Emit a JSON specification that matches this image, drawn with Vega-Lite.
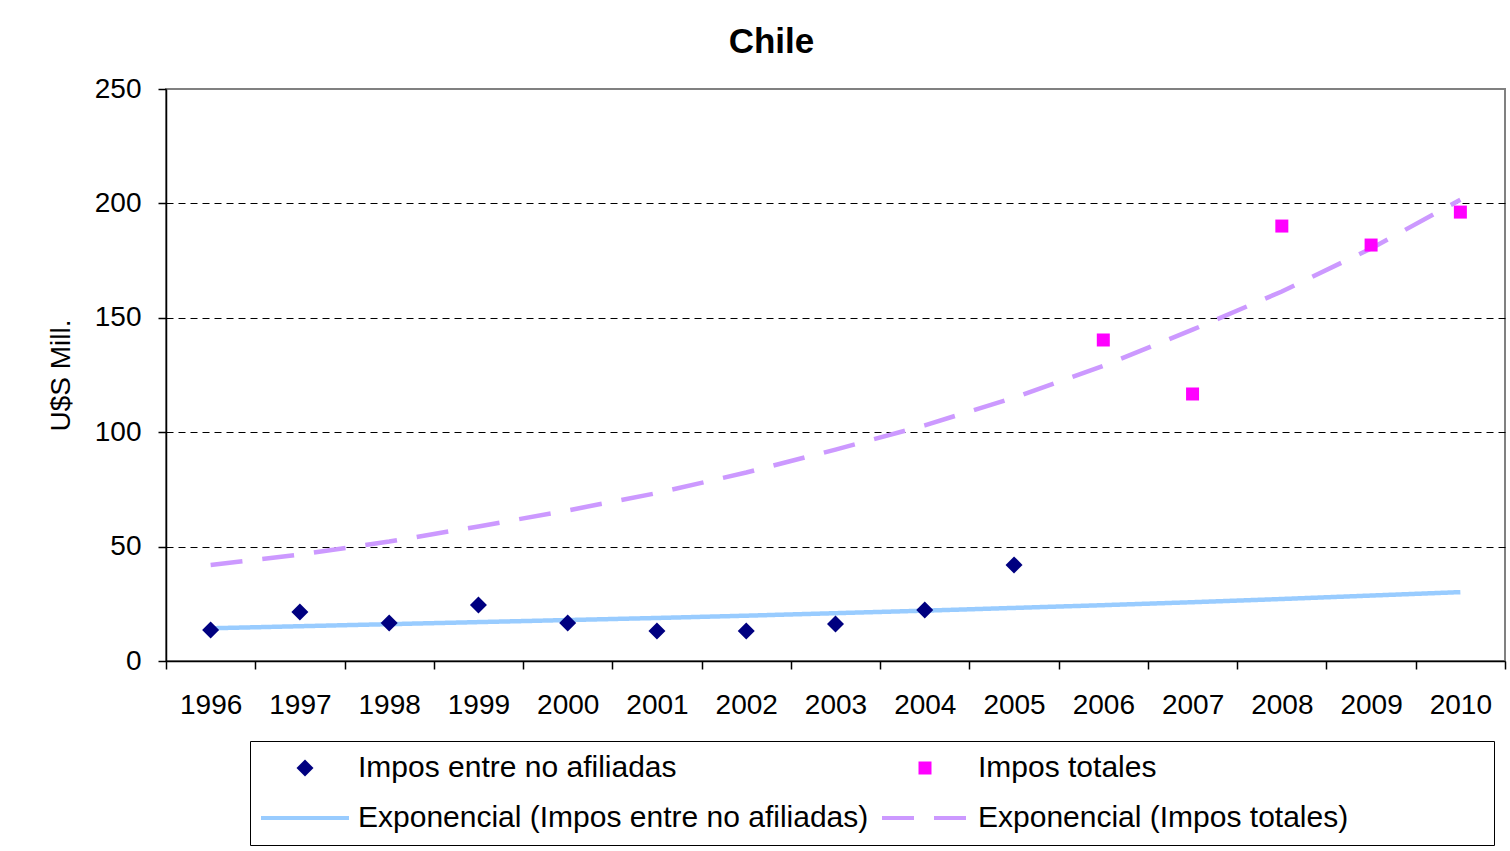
{
  "$schema": "https://vega.github.io/schema/vega-lite/v6.json",
  "width": 1339,
  "height": 572,
  "autosize": {"type": "none"},
  "padding": {"left": 166, "top": 89, "right": 5, "bottom": 190},
  "background": "white",
  "config": {
    "font": "Liberation Sans",
    "view": {"stroke": "#808080", "strokeWidth": 2},
    "axis": {"labelColor": "black", "titleColor": "black", "domainColor": "black", "tickColor": "black", "labelFont": "Liberation Sans", "titleFont": "Liberation Sans"}
  },
  "title": {"text": "Chile", "fontSize": 35, "fontWeight": "bold", "font": "Liberation Sans", "color": "black", "anchor": "middle", "dx": -64, "offset": 37, "dy": 50, "baseline": "alphabetic"},
  "datasets": {
    "obs": [
      {"year": "1996", "value": 13.5, "series": "Impos entre no afiliadas"},
      {"year": "1997", "value": 21.4, "series": "Impos entre no afiliadas"},
      {"year": "1998", "value": 16.6, "series": "Impos entre no afiliadas"},
      {"year": "1999", "value": 24.5, "series": "Impos entre no afiliadas"},
      {"year": "2000", "value": 16.6, "series": "Impos entre no afiliadas"},
      {"year": "2001", "value": 13.1, "series": "Impos entre no afiliadas"},
      {"year": "2002", "value": 13.1, "series": "Impos entre no afiliadas"},
      {"year": "2003", "value": 16.2, "series": "Impos entre no afiliadas"},
      {"year": "2004", "value": 22.3, "series": "Impos entre no afiliadas"},
      {"year": "2005", "value": 42.0, "series": "Impos entre no afiliadas"},
      {"year": "2006", "value": 140.3, "series": "Impos totales"},
      {"year": "2007", "value": 116.7, "series": "Impos totales"},
      {"year": "2008", "value": 190.1, "series": "Impos totales"},
      {"year": "2009", "value": 181.8, "series": "Impos totales"},
      {"year": "2010", "value": 196.2, "series": "Impos totales"}
    ],
    "trend": [
      {"year": "1996", "value": 14.3, "series": "Exponencial (Impos entre no afiliadas)"},
      {"year": "1997", "value": 15.2, "series": "Exponencial (Impos entre no afiliadas)"},
      {"year": "1998", "value": 16.1, "series": "Exponencial (Impos entre no afiliadas)"},
      {"year": "1999", "value": 17.0, "series": "Exponencial (Impos entre no afiliadas)"},
      {"year": "2000", "value": 17.9, "series": "Exponencial (Impos entre no afiliadas)"},
      {"year": "2001", "value": 18.8, "series": "Exponencial (Impos entre no afiliadas)"},
      {"year": "2002", "value": 19.8, "series": "Exponencial (Impos entre no afiliadas)"},
      {"year": "2003", "value": 20.9, "series": "Exponencial (Impos entre no afiliadas)"},
      {"year": "2004", "value": 22.0, "series": "Exponencial (Impos entre no afiliadas)"},
      {"year": "2005", "value": 23.2, "series": "Exponencial (Impos entre no afiliadas)"},
      {"year": "2006", "value": 24.4, "series": "Exponencial (Impos entre no afiliadas)"},
      {"year": "2007", "value": 25.7, "series": "Exponencial (Impos entre no afiliadas)"},
      {"year": "2008", "value": 27.1, "series": "Exponencial (Impos entre no afiliadas)"},
      {"year": "2009", "value": 28.6, "series": "Exponencial (Impos entre no afiliadas)"},
      {"year": "2010", "value": 30.1, "series": "Exponencial (Impos entre no afiliadas)"},
      {"year": "1996", "value": 42.0, "series": "Exponencial (Impos totales)"},
      {"year": "1997", "value": 46.5, "series": "Exponencial (Impos totales)"},
      {"year": "1998", "value": 52.2, "series": "Exponencial (Impos totales)"},
      {"year": "1999", "value": 58.8, "series": "Exponencial (Impos totales)"},
      {"year": "2000", "value": 65.8, "series": "Exponencial (Impos totales)"},
      {"year": "2001", "value": 73.4, "series": "Exponencial (Impos totales)"},
      {"year": "2002", "value": 82.4, "series": "Exponencial (Impos totales)"},
      {"year": "2003", "value": 92.4, "series": "Exponencial (Impos totales)"},
      {"year": "2004", "value": 103.0, "series": "Exponencial (Impos totales)"},
      {"year": "2005", "value": 115.1, "series": "Exponencial (Impos totales)"},
      {"year": "2006", "value": 129.0, "series": "Exponencial (Impos totales)"},
      {"year": "2007", "value": 144.8, "series": "Exponencial (Impos totales)"},
      {"year": "2008", "value": 161.5, "series": "Exponencial (Impos totales)"},
      {"year": "2009", "value": 180.3, "series": "Exponencial (Impos totales)"},
      {"year": "2010", "value": 201.6, "series": "Exponencial (Impos totales)"}
    ]
  },
  "encoding": {
    "x": {
      "field": "year", "type": "ordinal",
      "scale": {"type": "band", "paddingInner": 0, "paddingOuter": 0},
      "axis": {"title": null, "labelAngle": 0, "labelFontSize": 28, "tickSize": 8, "labelPadding": 22, "tickBand": "extent", "domainWidth": 1.5, "tickWidth": 1.5, "grid": false}
    },
    "y": {
      "field": "value", "type": "quantitative",
      "scale": {"domain": [0, 250], "nice": false},
      "axis": {
        "title": "U$S Mill.", "titleFontSize": 28, "titleFontWeight": "normal", "titlePadding": 19,
        "values": [0, 50, 100, 150, 200, 250],
        "labelFontSize": 28, "tickSize": 8, "labelPadding": 17, "domainWidth": 1.5, "tickWidth": 1.5,
        "grid": true, "gridColor": "black", "gridDash": [7, 5], "gridWidth": 1,
        "gridOpacity": {"condition": {"test": "datum.value == 0 || datum.value == 250", "value": 0}, "value": 1}
      }
    }
  },
  "layer": [
    {
      "data": {"name": "trend"},
      "mark": {"type": "line", "strokeWidth": 4.5},
      "encoding": {
        "stroke": {"field": "series", "type": "nominal", "legend": null,
          "scale": {"domain": ["Exponencial (Impos entre no afiliadas)", "Exponencial (Impos totales)"], "range": ["#99ccff", "#cc99ff"]}},
        "strokeDash": {"field": "series", "type": "nominal", "legend": null,
          "scale": {"domain": ["Exponencial (Impos entre no afiliadas)", "Exponencial (Impos totales)"], "range": [[1, 0], [32, 20]]}}
      }
    },
    {
      "data": {"name": "obs"},
      "mark": {"type": "point", "filled": true, "opacity": 1, "size": 400},
      "encoding": {
        "color": {
          "field": "series", "type": "nominal",
          "scale": {"domain": ["Impos entre no afiliadas", "Impos totales", "Exponencial (Impos entre no afiliadas)", "Exponencial (Impos totales)"], "range": ["#000080", "#ff00ff", "#99ccff", "#cc99ff"]},
          "legend": {
            "title": null, "orient": "none", "legendX": 84, "legendY": 652,
            "direction": "horizontal",
            "columns": 2, "gridAlign": "all", "columnPadding": 13, "rowPadding": 20,
            "padding": 12, "strokeColor": "black", "fillColor": "white",
            "labelFontSize": 30, "labelFont": "Liberation Sans", "labelColor": "black", "labelLimit": 0,
            "labelExpr": "indexof(datum.label, 'totales)') > 0 ? datum.label + '\u00a0\u00a0\u00a0\u00a0\u00a0\u00a0\u00a0\u00a0\u00a0\u00a0\u00a0\u00a0\u00a0\u00a0\u00a0\u00a0\u200b' : datum.label",
            "symbolSize": 400, "symbolStrokeWidth": 0, "symbolOffset": 28, "labelOffset": 38, "symbolOpacity": 1
          }
        },
        "shape": {
          "field": "series", "type": "nominal",
          "scale": {"domain": ["Impos entre no afiliadas", "Impos totales", "Exponencial (Impos entre no afiliadas)", "Exponencial (Impos totales)"], "range": ["M0,-0.85L0.85,0L0,0.85L-0.85,0Z", "M-0.65,-0.65H0.65V0.65H-0.65Z", "M-4.4,-0.2H4.4V0.2H-4.4Z", "M-4.3,-0.2H-1.1V0.2H-4.3Z M0.9,-0.2H4.1V0.2H0.9Z"]}
        }
      }
    }
  ]
}
